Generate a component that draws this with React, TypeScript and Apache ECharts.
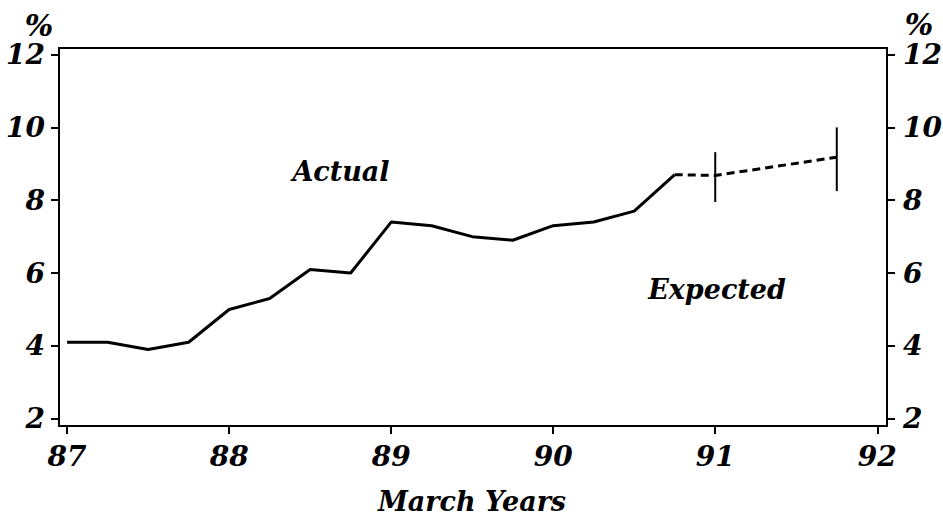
import React, { useEffect, useRef } from "react";
import * as echarts from "echarts";

const actualX = [87, 87.25, 87.5, 87.75, 88, 88.25, 88.5, 88.75, 89, 89.25, 89.5, 89.75, 90, 90.25, 90.5, 90.75];
const actualY = [4.1, 4.1, 3.9, 4.1, 5.0, 5.3, 6.1, 6.0, 7.4, 7.3, 7.0, 6.9, 7.3, 7.4, 7.7, 8.7];
const expectedX = [90.75, 91, 91.75];
const expectedY = [8.7, 8.68, 9.18];
const errorX = [91, 91.75];
const errorLow = [7.95, 8.25];
const errorHigh = [9.32, 10.0];
const xTicks = [87, 88, 89, 90, 91, 92];
const yTicks = [2, 4, 6, 8, 10, 12];

const FONT = "DejaVu Serif";

export default function App() {
  const ref = useRef<HTMLDivElement>(null);
  useEffect(() => {
    if (!ref.current) return;
    const chart = echarts.init(ref.current, null, { renderer: "svg" });
    const labelStyle = {
      color: "#000",
      fontFamily: FONT,
      fontWeight: "bold" as const,
      fontStyle: "italic" as const,
      fontSize: 28,
    };
    const yAxisBase = (pos: "left" | "right") => ({
      type: "value" as const,
      position: pos,
      min: 1.8,
      max: 12.18,
      splitLine: { show: false },
      axisLine: { show: true, lineStyle: { color: "#000", width: 2 } },
      axisTick: { show: true, length: 8, lineStyle: { color: "#000", width: 2 }, customValues: yTicks },
      axisLabel: { ...labelStyle, margin: pos === "left" ? 14 : 16, customValues: yTicks },
    });
    const series: any[] = [
      {
        type: "line",
        data: actualX.map((x, i) => [x, actualY[i]]),
        showSymbol: false,
        lineStyle: { color: "#000", width: 3 },
      },
      {
        type: "line",
        data: expectedX.map((x, i) => [x, expectedY[i]]),
        showSymbol: false,
        lineStyle: { color: "#000", width: 3, type: [8, 5] },
      },
    ];
    errorX.forEach((x, i) => {
      series.push({
        type: "line",
        data: [
          [x, errorLow[i]],
          [x, errorHigh[i]],
        ],
        showSymbol: false,
        lineStyle: { color: "#000", width: 2 },
      });
    });
    chart.setOption({
      animation: false,
      backgroundColor: "#fff",
      grid: {
        left: 59,
        right: 56,
        top: 48,
        bottom: 93,
        containLabel: false,
        outerBoundsMode: "none",
        show: true,
        borderColor: "#000",
        borderWidth: 2,
      },
      xAxis: {
        type: "value",
        min: 86.95,
        max: 92.06,
        splitLine: { show: false },
        axisLine: { show: true, lineStyle: { color: "#000", width: 2 } },
        axisTick: { show: true, length: 8, lineStyle: { color: "#000", width: 2 }, customValues: xTicks },
        axisLabel: { ...labelStyle, margin: 16, customValues: xTicks },
      },
      yAxis: [yAxisBase("left"), yAxisBase("right")],
      series,
      graphic: [
        { type: "text", x: 39, y: 25, style: { text: "%", fill: "#000", align: "center", verticalAlign: "middle", fontFamily: FONT, fontWeight: "bold", fontStyle: "italic", fontSize: 30 } },
        { type: "text", x: 919, y: 24, style: { text: "%", fill: "#000", align: "center", verticalAlign: "middle", fontFamily: FONT, fontWeight: "bold", fontStyle: "italic", fontSize: 30 } },
        { type: "text", x: 341, y: 171, style: { text: "Actual", fill: "#000", align: "center", verticalAlign: "middle", fontFamily: FONT, fontWeight: "bold", fontStyle: "italic", fontSize: 27 } },
        { type: "text", x: 717, y: 289, style: { text: "Expected", fill: "#000", align: "center", verticalAlign: "middle", fontFamily: FONT, fontWeight: "bold", fontStyle: "italic", fontSize: 27 } },
        { type: "text", x: 472, y: 501, style: { text: "March Years", fill: "#000", align: "center", verticalAlign: "middle", fontFamily: FONT, fontWeight: "bold", fontStyle: "italic", fontSize: 27 } },
      ],
    });
    return () => chart.dispose();
  }, []);
  return <div ref={ref} style={{ width: 943, height: 519, position: "absolute", left: 0, top: 0 }} />;
}
